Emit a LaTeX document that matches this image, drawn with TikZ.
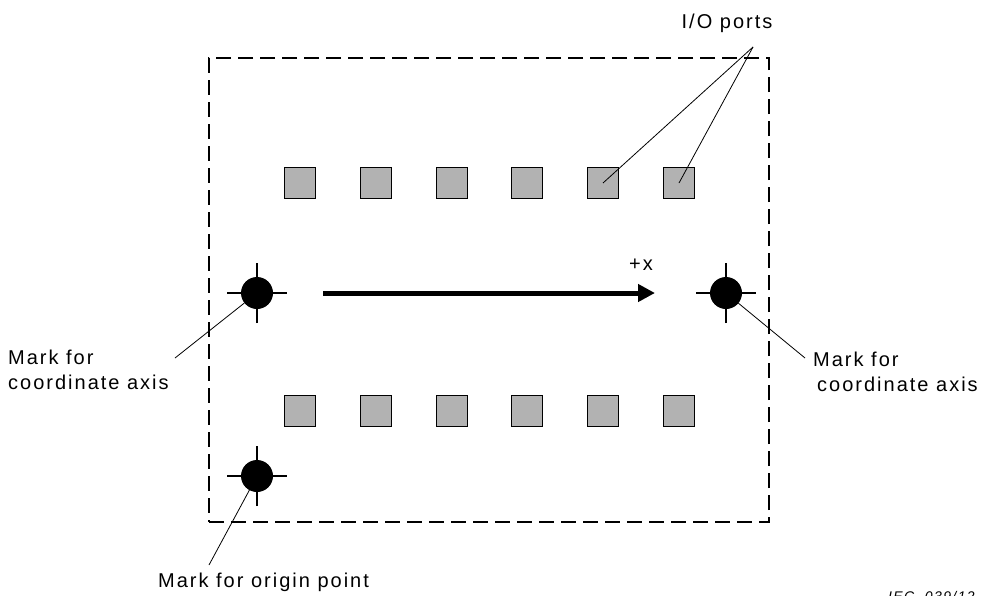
\documentclass[tikz,border=0pt]{standalone}
\usepackage{fontspec}
\setmainfont{Liberation Sans}[LetterSpace=10]
\usetikzlibrary{arrows.meta}
\begin{document}
\begin{tikzpicture}[x=1pt,y=-1pt,
  port/.style={draw=black, fill=black!30, line width=1.6pt, minimum size=31pt, inner sep=0pt, outer sep=0pt},
  markdot/.style={circle, fill=black, minimum size=32pt, inner sep=0pt, outer sep=0pt},
  tickline/.style={line width=1.8pt},
  leader/.style={line width=0.8pt},
  lbl/.style={font=\fontsize{20}{25}\selectfont, inner sep=0pt, align=left},
  framebox/.style={draw, line width=1.6pt, dash pattern=on 15pt off 7pt, inner sep=0pt},
]
\useasboundingbox (0,0) rectangle (982,595);
\node[framebox, minimum width=560pt, minimum height=464pt] (box) at (489,290) {};
\foreach \i/\x in {1/300,2/376,3/452,4/527,5/603,6/679} {
  \node[port] (t\i) at (\x,183) {};
  \node[port] (b\i) at (\x,411) {};
}
\node[markdot] (ml) at (257,293) {};
\node[markdot] (mr) at (726,293) {};
\node[markdot] (mo) at (257,476) {};
\foreach \m in {ml,mr,mo} {
  \draw[tickline] ([xshift=-30pt]\m.center) -- ([xshift=30pt]\m.center);
  \draw[tickline] ([yshift=-30pt]\m.center) -- ([yshift=30pt]\m.center);
}
\coordinate (as) at (323,293);
\coordinate (ae) at (655,293);
\draw[line width=5pt, -{Triangle[length=17pt,width=17pt]}] (as) -- (ae);
\node[lbl] (px) at (641,265) {+x};
\node[lbl, anchor=north west] (lleft) at (8,350) {Mark for\\coordinate axis};
\node[lbl, anchor=north west] (lright) at (813,352) {Mark for\\\hspace{4pt}coordinate axis};
\node[lbl, anchor=base west] (lorig) at (158,587) {Mark for origin point};
\node[lbl, anchor=base] (lio) at (727,28) {I/O ports};
\node[font=\fontsize{14}{16}\selectfont\itshape, anchor=base west, inner sep=0pt] (iec) at (888,601) {IEC\ \ 039/12};
\coordinate (la) at (175,358);
\draw[leader] (la) -- (ml);
\coordinate (ra) at (805,358);
\draw[leader] (ra) -- (mr);
\coordinate (oa) at (209,565);
\draw[leader] (oa) -- (mo);
\coordinate (ioa) at (753,47);
\draw[leader] (ioa) -- (t5.center);
\draw[leader] (ioa) -- (t6.center);
\end{tikzpicture}
\end{document}
